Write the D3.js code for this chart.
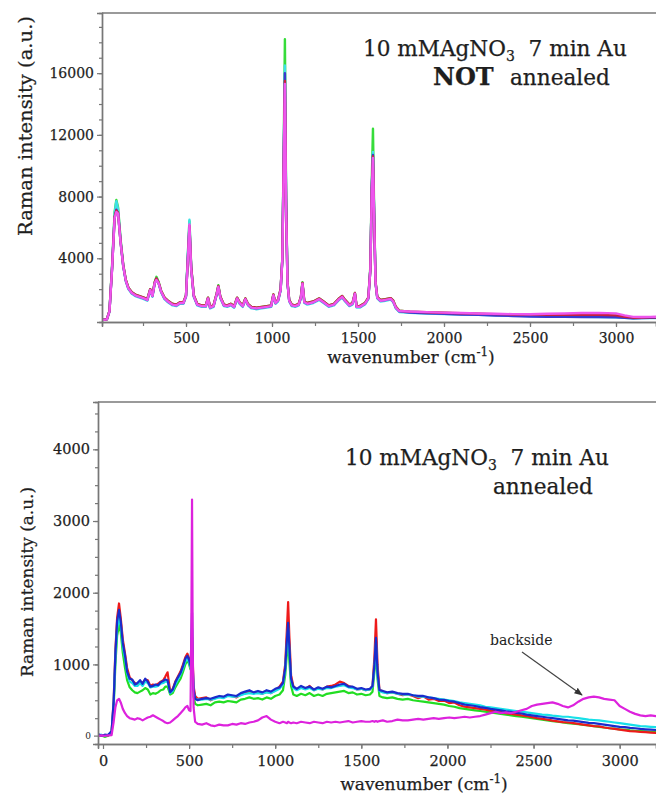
<!DOCTYPE html>
<html><head><meta charset="utf-8">
<script src="https://cdn.jsdelivr.net/npm/d3@7"></script>
<style>
body{margin:0;background:#fff;}
svg{display:block;}
text{font-family:"DejaVu Serif",serif;fill:#1e1e1e;stroke:#1e1e1e;stroke-width:0.25px;}
</style></head><body>
<svg id="c" width="656" height="799"></svg>
<script>
// ---------- TOP PANEL DATA (NOT annealed) ----------
const topWn = [
 12,40,55,70,85,95,105,120,135,150,
 165,185,205,230,255,275,292,305,318,328,
 340,355,375,395,420,445,465,485,500,512,
 520,530,545,565,590,615,628,640,660,678,
 688,700,720,740,760,780,797,812,830,845,
 860,880,910,940,970,995,1008,1020,1035,1050,
 1060,1068,1075,1082,1090,1100,1115,1135,1155,1168,
 1177,1188,1205,1240,1275,1300,1330,1360,1390,1408,
 1425,1450,1468,1482,1492,1510,1540,1560,1572,1580,
 1587,1594,1602,1612,1630,1660,1690,1705,1720,1740,
 1800,1900,2000,2100,2200,2300,2400,2500,2600,2700,
 2800,2900,3000,3050,3100,3150,3200,3250];
const topGreen = [
 0,50,600,3500,7000,7780,7300,5200,3600,2600,
 2100,1800,1650,1550,1450,1350,2000,1600,2450,2800,
 2500,1900,1450,1250,1050,1000,1150,1150,1600,4500,
 6400,3500,1600,1050,950,950,1450,850,950,1700,
 2250,1500,1000,950,1050,900,1450,1150,950,1400,
 1050,850,800,850,900,950,1650,1150,1300,2000,
 4000,11000,18200,8000,2500,1300,1000,950,1050,1500,
 2450,1200,1100,1200,1400,1200,950,1050,1400,1550,
 1300,1000,1100,1750,900,900,1100,1450,3500,9000,
 12400,7000,2500,1500,1300,1350,1420,1250,850,600,
 530,490,450,420,390,360,340,320,300,290,
 280,270,250,180,130,150,160,170];
const topCyan = [
 0,40,550,3400,6900,7700,7200,5100,3500,2500,
 2000,1700,1550,1450,1350,1250,1900,1500,2350,2700,
 2400,1800,1350,1150,950,900,1050,1050,1500,4600,
 6500,3400,1500,950,850,850,1350,750,850,1600,
 2150,1400,900,850,950,800,1350,1050,850,1300,
 950,750,700,750,800,850,1550,1050,1200,1900,
 3900,10500,16500,7800,2400,1200,900,850,950,1400,
 2350,1100,1000,1100,1300,1100,850,950,1300,1450,
 1200,900,1000,1650,800,800,1000,1350,3300,8500,
 10900,6800,2400,1400,1200,1250,1320,1150,750,520,
 460,420,390,360,330,300,280,260,240,220,
 200,190,170,140,110,120,130,130];
const topBlue = [
 0,45,560,3300,6600,7150,6900,5000,3500,2550,
 2050,1750,1600,1500,1400,1300,1950,1550,2400,2650,
 2400,1850,1400,1200,1000,950,1100,1100,1550,4300,
 6000,3400,1550,1000,900,900,1400,800,900,1650,
 2150,1450,950,900,1000,850,1400,1100,900,1350,
 1000,800,750,800,850,900,1600,1100,1250,1950,
 3900,10500,16000,7600,2400,1250,950,900,1000,1450,
 2350,1150,1050,1150,1350,1150,900,1000,1350,1500,
 1250,950,1050,1700,850,850,1050,1400,3300,8600,
 10700,6700,2400,1450,1250,1300,1370,1200,800,560,
 480,440,400,360,330,290,260,230,210,200,
 190,190,180,150,110,120,140,150];
const topRed = [
 0,45,580,3350,6700,7100,6950,5050,3550,2600,
 2100,1800,1650,1550,1450,1350,2000,1600,2450,2700,
 2450,1900,1450,1250,1050,1000,1150,1150,1600,4200,
 6100,3450,1600,1050,950,950,1450,850,950,1700,
 2200,1500,1000,950,1050,900,1450,1150,950,1400,
 1050,850,800,850,900,950,1650,1150,1300,2000,
 3950,10200,15500,7400,2450,1300,1000,950,1050,1500,
 2400,1200,1100,1200,1400,1200,950,1050,1400,1550,
 1300,1000,1100,1750,900,900,1100,1450,3300,8400,
 10600,6600,2450,1500,1300,1350,1420,1250,850,600,
 540,500,470,440,410,380,360,350,340,340,
 340,330,300,210,150,160,170,180];
const topMagenta = [
 0,40,560,3300,6600,7000,6900,5000,3500,2550,
 2050,1750,1600,1500,1400,1300,1950,1550,2400,2600,
 2400,1850,1400,1200,1000,950,1100,1100,1550,4200,
 6200,3300,1550,1000,900,900,1400,800,900,1650,
 2150,1450,950,900,1000,850,1400,1100,900,1350,
 1000,800,750,800,850,900,1600,1100,1250,1950,
 3900,10000,15300,7300,2400,1250,950,900,1000,1450,
 2350,1150,1050,1150,1350,1150,900,1000,1350,1500,
 1250,950,1050,1700,850,850,1050,1400,3300,8300,
 10500,6500,2400,1450,1250,1300,1370,1200,800,580,
 550,510,480,450,420,400,380,370,400,420,
 450,460,430,300,200,190,200,210];

// ---------- BOTTOM PANEL DATA (annealed) ----------
const botWn = [
 -30,-10,10,30,50,62,72,82,93,103,
 115,128,140,155,170,185,200,215,230,245,
 260,275,290,305,320,335,350,362,375,390,
 405,420,435,450,465,478,490,500,508,513,
 517,521,526,535,550,575,600,625,650,675,
 700,725,750,775,800,825,850,875,900,925,
 950,975,1000,1025,1045,1058,1068,1075,1082,1092,
 1105,1125,1150,1175,1200,1225,1250,1275,1300,1325,
 1350,1375,1400,1425,1450,1475,1500,1525,1550,1565,
 1576,1585,1594,1605,1625,1650,1680,1710,1740,1770,
 1800,1830,1860,1890,1920,1950,1980,2010,2040,2070,
 2100,2130,2160,2190,2220,2250,2280,2310,2340,2370,
 2400,2430,2460,2490,2520,2550,2580,2610,2640,2670,
 2700,2730,2760,2790,2820,2850,2880,2910,2940,2970,
 3000,3030,3060,3090,3120,3150,3180,3210,3240,3270];
const botGreen = [
 0,10,-10,5,40,400,1000,1400,1550,1450,
 1160,950,780,680,640,610,600,620,640,670,
 650,580,600,590,610,640,650,690,690,580,
 600,680,740,800,900,1000,1060,1000,930,1000,
 1100,800,550,450,430,440,450,430,470,480,
 470,490,480,470,510,520,540,520,530,510,
 540,520,560,580,640,850,1150,1300,1050,700,
 580,560,590,570,600,560,580,560,590,600,
 610,620,630,600,610,580,590,570,580,620,
 900,1160,800,560,540,530,540,520,510,520,
 500,490,480,470,460,450,440,420,410,390,
 380,370,360,350,340,330,320,310,300,290,
 280,270,260,250,240,230,220,210,200,190,
 180,175,165,155,150,140,130,120,110,105,
 95,90,80,75,70,65,60,55,60,60];
const botCyan = [
 10,20,5,20,50,450,1100,1500,1650,1550,
 1250,1080,880,760,740,700,700,740,700,760,
 740,680,690,690,700,730,740,760,760,600,
 630,720,790,860,950,1040,1080,1030,960,1150,
 1500,950,620,520,510,510,520,510,520,540,
 530,560,550,550,570,590,600,590,600,590,
 610,600,630,660,720,920,1280,1500,1180,780,
 670,640,670,650,670,640,660,650,670,670,
 690,700,710,680,670,650,660,640,650,690,
 950,1300,850,630,610,600,610,590,580,580,
 570,550,550,540,530,520,510,500,490,470,
 460,450,440,430,410,400,390,380,370,360,
 350,340,330,320,310,300,295,285,280,270,
 270,260,250,240,230,225,220,210,200,190,
 180,170,160,150,140,135,130,125,130,130];
const botBlue = [
 30,5,20,15,70,480,1150,1600,1760,1600,
 1300,1120,900,800,790,720,740,780,730,800,
 760,690,700,720,710,750,770,790,780,610,
 650,750,820,880,980,1080,1120,1060,980,1300,
 1720,1000,650,520,500,520,530,520,540,560,
 550,580,570,560,600,620,640,610,630,610,
 640,620,660,680,740,950,1350,1580,1250,800,
 690,660,700,670,690,650,680,660,690,680,
 700,720,730,690,690,660,670,650,660,700,
 1000,1370,900,640,630,610,620,600,590,590,
 570,560,560,540,530,510,505,490,480,460,
 440,430,420,405,395,380,370,360,345,340,
 325,315,300,290,280,270,260,250,240,230,
 220,215,205,195,185,180,170,160,150,140,
 130,125,115,110,100,95,90,85,90,90];
const botRed = [
 20,10,15,10,60,500,1200,1650,1850,1650,
 1350,1150,950,820,780,740,720,760,740,790,
 780,700,720,710,730,760,780,830,890,620,
 660,760,830,900,1000,1100,1150,1080,1000,1150,
 1380,1050,700,560,520,530,540,500,530,550,
 540,570,560,540,580,600,620,600,610,590,
 620,600,640,690,760,1000,1500,1870,1400,850,
 700,650,680,660,700,640,670,650,690,700,
 720,760,740,700,680,650,660,640,650,700,
 1100,1630,1000,650,620,600,610,590,570,580,
 560,530,555,510,520,490,495,460,470,430,
 410,400,390,380,370,355,345,335,320,310,
 300,290,280,265,250,240,230,215,205,195,
 190,180,170,160,150,140,135,120,110,100,
 90,80,70,65,60,55,50,45,50,50];
const botMagenta = [
 0,10,5,10,15,200,400,500,520,470,
 380,320,280,250,240,230,250,240,220,240,
 260,270,290,270,250,230,210,190,180,190,
 220,250,280,320,360,400,420,360,350,1500,
 3300,1200,400,200,170,160,180,150,140,160,
 150,150,170,160,180,170,190,200,220,260,
 280,230,200,180,200,190,180,200,190,180,
 190,180,200,190,180,200,190,180,200,190,
 200,190,200,210,190,200,210,200,200,210,
 200,210,200,210,220,200,210,230,220,220,
 230,240,230,240,250,240,250,260,250,260,
 270,260,270,280,300,320,340,320,330,320,
 340,360,380,420,440,450,460,470,450,420,
 400,430,480,520,540,550,540,520,510,500,
 420,380,340,310,290,280,290,280,290,290];

// ---------- TICKS / LABELS ----------
const topXTicks = [500,1000,1500,2000,2500,3000];
const topYTicks = [4000,8000,12000,16000];
const botXTicks = [0,500,1000,1500,2000,2500,3000];
const botYTicks = [1000,2000,3000,4000];
const topSeriesNames = ["green","cyan","blue","red","magenta"];
const botSeriesNames = ["green","red","cyan","blue","magenta"];

const svg = d3.select("#c");
const defs = svg.append("defs");
defs.append("marker").attr("id","arr").attr("viewBox","0 0 10 10").attr("refX",9).attr("refY",5)
  .attr("markerWidth",7).attr("markerHeight",7).attr("orient","auto")
  .append("path").attr("d","M0,1 L10,5 L0,9 Z").attr("fill","#333");

function panel(cfg){
  const g = svg.append("g");
  const x = d3.scaleLinear().domain(cfg.xd).range([cfg.l, cfg.r]);
  const y = d3.scaleLinear().domain(cfg.yd).range([cfg.b, cfg.t]);
  const cid = "clip"+cfg.id;
  defs.append("clipPath").attr("id",cid).append("rect")
    .attr("x",cfg.l).attr("y",cfg.t-2).attr("width",cfg.r-cfg.l).attr("height",cfg.b-cfg.t+2);
  g.append("line").attr("x1",cfg.l).attr("x2",cfg.r).attr("y1",cfg.t).attr("y2",cfg.t)
    .attr("stroke","#9a9a9a").attr("stroke-width",2);
  const lg = g.append("g").attr("clip-path",`url(#${cid})`);
  cfg.series.forEach(s=>{
    const pts = cfg.wn.map((w,i)=>[w,s.v[i]]).filter(p=>p[1]!==undefined);
    lg.append("path").datum(pts)
      .attr("d", d3.line().x(p=>x(p[0])).y(p=>y(p[1])))
      .attr("fill","none").attr("stroke",s.c).attr("stroke-width",cfg.sw)
      .attr("stroke-linejoin","round");
  });
  const xMinor = d3.range(cfg.xMinorStart, cfg.xd[1], cfg.xMinorStep);
  const yMinor = d3.range(cfg.yMinorStart, cfg.yd[1], cfg.yMinorStep);
  const ax = g.append("g").attr("transform",`translate(0,${cfg.b})`)
    .call(d3.axisBottom(x).tickValues(xMinor).tickSize(4).tickFormat(""));
  const ay = g.append("g").attr("transform",`translate(${cfg.l},0)`)
    .call(d3.axisLeft(y).tickValues(yMinor).tickSize(3).tickFormat(""));
  const axM = g.append("g").attr("transform",`translate(0,${cfg.b})`)
    .call(d3.axisBottom(x).tickValues(cfg.xTicks).tickSize(5).tickPadding(cfg.xPad).tickFormat(d3.format("d")));
  const ayM = g.append("g").attr("transform",`translate(${cfg.l},0)`)
    .call(d3.axisLeft(y).tickValues(cfg.yTicks).tickSize(5).tickPadding(3).tickFormat(d3.format("d")));
  [ax,ay,axM,ayM].forEach(a=>{
    a.select(".domain").attr("stroke","#777").attr("stroke-width",1.4);
    a.selectAll(".tick line").attr("stroke","#777").attr("stroke-width",1.2);
    a.selectAll("text").style("font-family","'DejaVu Serif',serif").attr("fill","#1e1e1e")
      .style("font-size",cfg.tickFs+"px");
  });
  return {g,x,y};
}

// ---------- TOP PANEL ----------
const topColors = {green:"#36dc3a",cyan:"#3ee0e6",blue:"#3a3ad0",red:"#c8203c",magenta:"#ee55ee"};
const topVals = {green:topGreen,cyan:topCyan,blue:topBlue,red:topRed,magenta:topMagenta};
const P1 = panel({id:1, l:102, r:656, t:13, b:322, xd:[11.6,3232.6], yd:[-130,19900],
  wn:topWn, sw:2.4,
  series: topSeriesNames.map(n=>({c:topColors[n], v:topVals[n]})),
  xTicks: topXTicks, yTicks: topYTicks, xMinorStart:250, xMinorStep:250,
  yMinorStart:1000, yMinorStep:1000, tickFs:14, xPad:6});

svg.append("text").attr("transform","translate(32,126) rotate(-90)").attr("text-anchor","middle")
  .attr("textLength",220).attr("lengthAdjust","spacingAndGlyphs")
  .style("font-size","18px").text("Raman intensity (a.u.)");
{
  const t = svg.append("text").attr("x",411).attr("y",363).attr("text-anchor","middle").style("font-size","17px");
  t.append("tspan").text("wavenumber (cm");
  t.append("tspan").attr("dy",-7).style("font-size","12px").text("-1");
  t.append("tspan").attr("dy",7).text(")");
}
{
  const t = svg.append("text").attr("x",363).attr("y",56).style("font-size","21.6px");
  t.append("tspan").text("10 mMAgNO");
  t.append("tspan").attr("dy",5).style("font-size","14px").text("3");
  t.append("tspan").attr("dy",-5).text("\u00a0\u00a07 min Au");
  svg.append("text").attr("x",433).attr("y",85).style("font-size","24px").style("font-weight","bold").text("NOT");
  svg.append("text").attr("x",510).attr("y",85).style("font-size","21.6px").text("annealed");
}

// ---------- BOTTOM PANEL ----------
const botColors = {green:"#22dd22",cyan:"#18e0e8",blue:"#1a2ccc",red:"#ee1a1a",magenta:"#dd22dd"};
const botVals = {green:botGreen,cyan:botCyan,blue:botBlue,red:botRed,magenta:botMagenta};
const P2 = panel({id:2, l:98, r:656, t:402, b:744, xd:[-29,3211], yd:[-110,4660],
  wn:botWn, sw:2.2,
  series: botSeriesNames.map(n=>({c:botColors[n], v:botVals[n]})),
  xTicks: botXTicks, yTicks: botYTicks, xMinorStart:250, xMinorStep:250,
  yMinorStart:250, yMinorStep:250, tickFs:14.5, xPad:7});
svg.append("text").attr("x",91).attr("y",P2.y(0)+3).attr("text-anchor","end")
  .style("font-size","9px").style("stroke-width","0").text("0");
svg.append("line").attr("x1",94).attr("x2",98).attr("y1",P2.y(0)).attr("y2",P2.y(0))
  .attr("stroke","#777").attr("stroke-width",1.2);

svg.append("text").attr("transform","translate(33,582) rotate(-90)").attr("text-anchor","middle")
  .attr("textLength",190).attr("lengthAdjust","spacingAndGlyphs")
  .style("font-size","17px").text("Raman intensity (a.u.)");
{
  const t = svg.append("text").attr("x",424).attr("y",790).attr("text-anchor","middle").style("font-size","17px");
  t.append("tspan").text("wavenumber (cm");
  t.append("tspan").attr("dy",-7).style("font-size","12px").text("-1");
  t.append("tspan").attr("dy",7).text(")");
}
{
  const t = svg.append("text").attr("x",345).attr("y",465).style("font-size","21.6px");
  t.append("tspan").text("10 mMAgNO");
  t.append("tspan").attr("dy",5).style("font-size","14px").text("3");
  t.append("tspan").attr("dy",-5).text("\u00a0\u00a07 min Au");
  svg.append("text").attr("x",493).attr("y",494).style("font-size","21.6px").text("annealed");
}
svg.append("text").attr("x",490).attr("y",645).style("font-size","14px").style("stroke-width","0").attr("fill","#333").text("backside");
svg.append("line").attr("x1",522).attr("y1",652).attr("x2",582).attr("y2",695)
  .attr("stroke","#444").attr("stroke-width",1.2).attr("marker-end","url(#arr)");
</script></body></html>
